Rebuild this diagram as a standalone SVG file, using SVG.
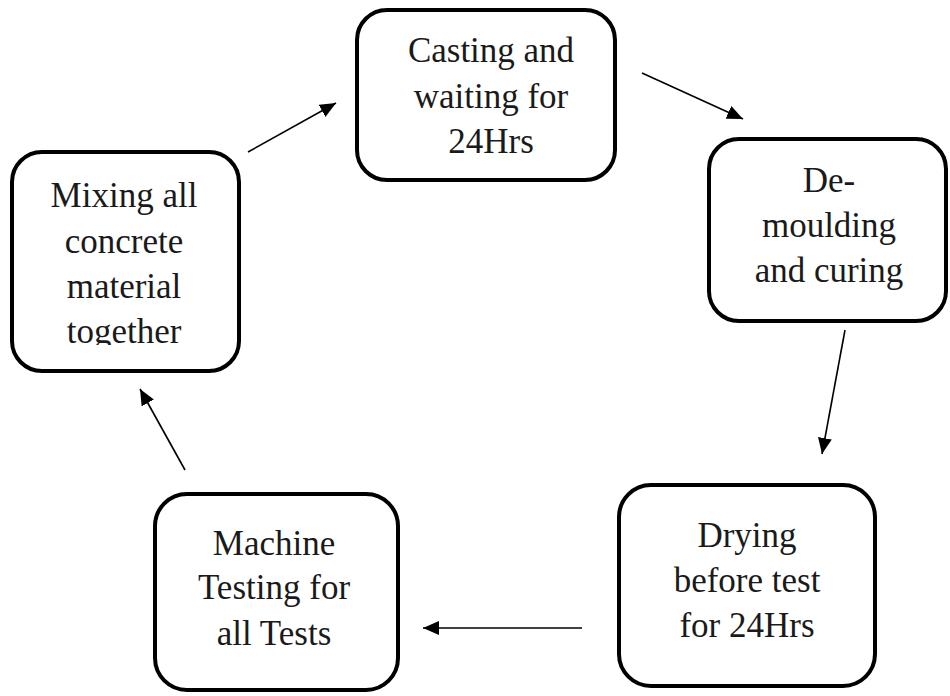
<svg xmlns="http://www.w3.org/2000/svg" width="950" height="696" viewBox="0 0 950 696">
<style>
.box{fill:#fff;stroke:#000;stroke-width:4}
.lbl{font-family:'Liberation Serif','Times New Roman',serif;font-size:35px;fill:#1a1a1a;text-anchor:middle}
.conn{stroke:#000;stroke-width:1.6;fill:none;marker-end:url(#ah)}
</style>
<defs>
<marker id="ah" markerUnits="userSpaceOnUse" markerWidth="17" markerHeight="14" refX="16" refY="7" orient="auto">
<path d="M0,0 L16,7 L0,14 z" fill="#000"/>
</marker>
<clipPath id="clipMix"><rect x="14" y="154" width="223" height="191"/></clipPath>
</defs>
<rect width="950" height="696" fill="#fff"/>
<g id="mixing">
<rect class="box" x="12" y="152" width="227" height="219" rx="30"/>
<g clip-path="url(#clipMix)">
<text class="lbl" x="124" y="207">Mixing all</text>
<text class="lbl" x="124" y="253">concrete</text>
<text class="lbl" x="124" y="298">material</text>
<text class="lbl" x="124" y="343">together</text>
</g>
</g>
<g id="casting">
<rect class="box" x="357" y="10" width="258" height="170" rx="30"/>
<text class="lbl" x="491" y="62">Casting and</text>
<text class="lbl" x="491" y="108">waiting for</text>
<text class="lbl" x="491" y="153">24Hrs</text>
</g>
<g id="demoulding">
<rect class="box" x="709" y="139" width="237" height="182" rx="30"/>
<text class="lbl" x="829" y="192">De-</text>
<text class="lbl" x="829" y="237">moulding</text>
<text class="lbl" x="829" y="282">and curing</text>
</g>
<g id="drying">
<rect class="box" x="619" y="485" width="256" height="201" rx="32"/>
<text class="lbl" x="747" y="547">Drying</text>
<text class="lbl" x="747" y="592">before test</text>
<text class="lbl" x="747" y="637">for 24Hrs</text>
</g>
<g id="machine">
<rect class="box" x="155" y="494" width="243" height="196" rx="32"/>
<text class="lbl" x="274" y="555">Machine</text>
<text class="lbl" x="274" y="599">Testing for</text>
<text class="lbl" x="274" y="645">all Tests</text>
</g>
<g id="connectors">
<line class="conn" x1="248" y1="152" x2="336" y2="103"/>
<line class="conn" x1="642" y1="73" x2="743" y2="119"/>
<line class="conn" x1="845" y1="330" x2="822" y2="454"/>
<line class="conn" x1="582" y1="628" x2="423" y2="628"/>
<line class="conn" x1="185" y1="470" x2="140" y2="389"/>
</g>
</svg>
